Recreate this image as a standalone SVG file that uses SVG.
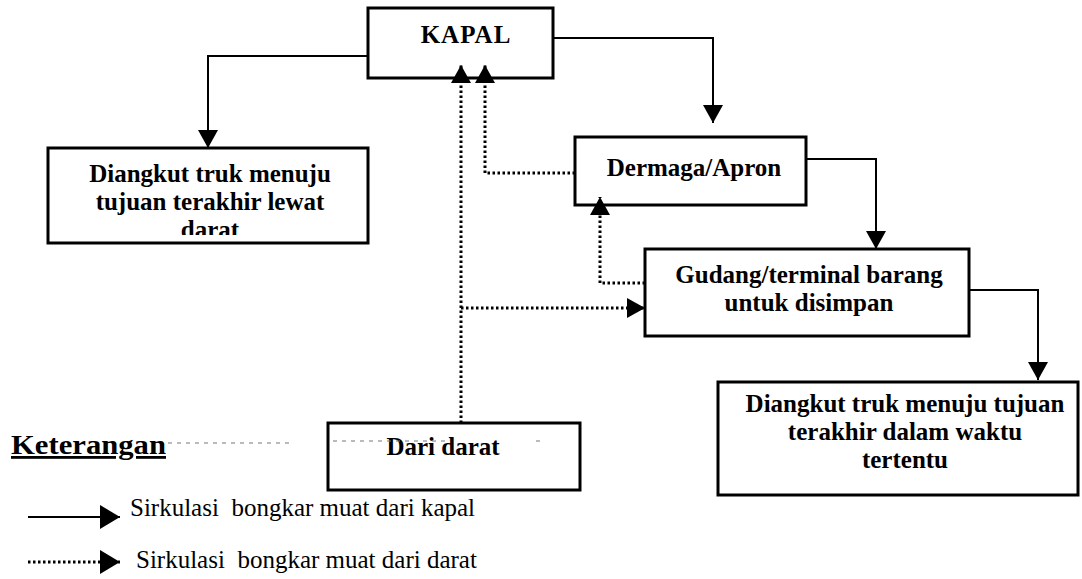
<svg xmlns="http://www.w3.org/2000/svg" width="1082" height="579" viewBox="0 0 1082 579">
  <style>
    .box { fill: #fff; stroke: #000; stroke-width: 3; }
    .lbl { font-family: "Liberation Serif", "Times New Roman", serif; font-weight: bold; font-size: 25px; fill: #000; text-anchor: middle; }
    .solid { fill: none; stroke: #000; stroke-width: 2; }
    .dotted { fill: none; stroke: #000; stroke-width: 3; stroke-dasharray: 2.5 2.5; }
    .legend { font-family: "Liberation Serif", "Times New Roman", serif; font-size: 25px; fill: #000; white-space: pre; }
  </style>
  <defs>
    <marker id="arrow" markerUnits="userSpaceOnUse" markerWidth="20" markerHeight="20" refX="18" refY="10" orient="auto">
      <path d="M0,0 L18,10 L0,20 z" fill="#000"/>
    </marker>
    <marker id="arrow-key" markerUnits="userSpaceOnUse" markerWidth="22" markerHeight="24" refX="20" refY="12" orient="auto">
      <path d="M0,0 L20,12 L0,24 z" fill="#000"/>
    </marker>
    <clipPath id="clip-left">
      <rect x="48" y="148" width="320" height="87"/>
    </clipPath>
  </defs>

  <rect width="1082" height="579" fill="#fff"/>

  <!-- nodes -->
  <g id="kapal">
    <rect class="box" x="368" y="8" width="185" height="70"/>
    <text class="lbl" x="466" y="43" font-size="23" letter-spacing="1">KAPAL</text>
  </g>

  <g id="truk-darat">
    <rect class="box" x="48" y="148" width="320" height="95"/>
    <g clip-path="url(#clip-left)">
      <text class="lbl" x="210" y="182">Diangkut truk menuju</text>
      <text class="lbl" x="210" y="210">tujuan terakhir lewat</text>
      <text class="lbl" x="210" y="238">darat</text>
    </g>
  </g>

  <g id="dermaga">
    <rect class="box" x="575" y="137" width="231" height="68"/>
    <text class="lbl" x="694" y="176">Dermaga/Apron</text>
  </g>

  <g id="gudang">
    <rect class="box" x="645" y="249" width="324" height="87"/>
    <text class="lbl" x="809" y="283">Gudang/terminal barang</text>
    <text class="lbl" x="809" y="311">untuk disimpan</text>
  </g>

  <g id="truk-waktu">
    <rect class="box" x="718" y="382" width="360" height="113"/>
    <text class="lbl" x="905" y="412">Diangkut truk menuju tujuan</text>
    <text class="lbl" x="905" y="440">terakhir dalam waktu</text>
    <text class="lbl" x="905" y="468">tertentu</text>
  </g>

  <g id="dari-darat">
    <rect class="box" x="328" y="423" width="252" height="67"/>
    <text class="lbl" x="443" y="455" font-size="22">Dari darat</text>
  </g>

  <!-- connectors -->
  <g id="connectors">
    <!-- unloading flow from the ship -->
    <path class="solid" d="M368,56 H208 V148" marker-end="url(#arrow)"/>
    <path class="solid" d="M553,38 H713 V123" marker-end="url(#arrow)"/>
    <path class="solid" d="M806,159 H876 V249" marker-end="url(#arrow)"/>
    <path class="solid" d="M969,290 H1038 V380" marker-end="url(#arrow)"/>
    <!-- loading flow from land -->
    <path class="dotted" d="M461,423 V65" marker-end="url(#arrow)"/>
    <path class="dotted" d="M575,173 H485 V65" marker-end="url(#arrow)"/>
    <path class="dotted" d="M645,283 H600 V197" marker-end="url(#arrow)"/>
    <path class="dotted" d="M461,308 H645" marker-end="url(#arrow)"/>
  </g>

  <!-- legend -->
  <g id="legend">
    <text x="11" y="454" font-family="Liberation Serif, Times New Roman, serif" font-weight="bold" font-size="28" text-decoration="underline" textLength="155" lengthAdjust="spacingAndGlyphs">Keterangan</text>
    <path d="M168,443 H292 M333,441 H450 M536,441 H541" stroke="#777" stroke-width="1" stroke-dasharray="4 5" fill="none"/>
    <path class="solid" d="M28,517 H120" stroke-width="3" marker-end="url(#arrow-key)"/>
    <text class="legend" x="130" y="516">Sirkulasi  bongkar muat dari kapal</text>
    <path class="dotted" d="M28,562 H120" stroke-width="2.5" stroke-dasharray="2 2" marker-end="url(#arrow-key)"/>
    <text class="legend" x="136" y="568">Sirkulasi  bongkar muat dari darat</text>
  </g>
</svg>
